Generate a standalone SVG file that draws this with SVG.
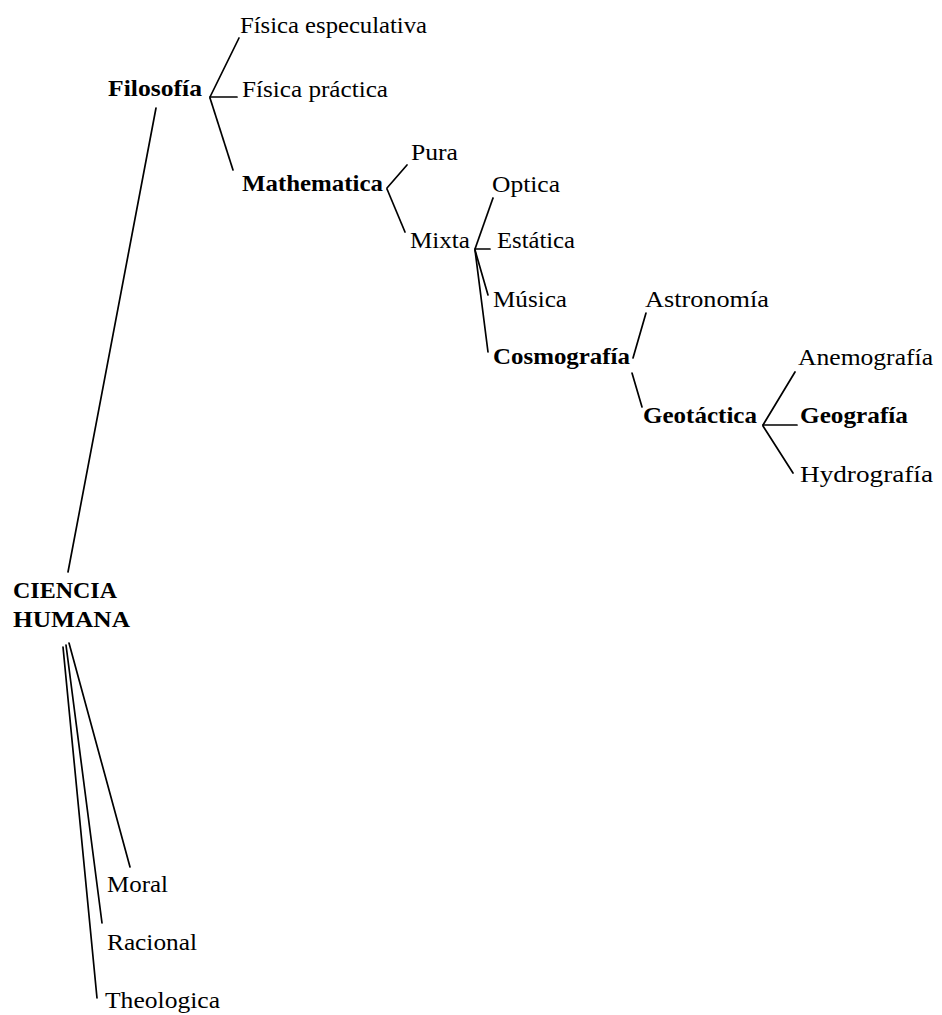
<svg xmlns="http://www.w3.org/2000/svg" width="942" height="1015" viewBox="0 0 942 1015">
<style>
text{font-family:"Liberation Serif","DejaVu Serif",serif;font-size:22.5px;fill:#000}
.b{font-weight:bold}
#connectors line{stroke:#000;stroke-width:1.7;fill:none;stroke-linecap:round}
</style>
<rect width="942" height="1015" fill="#fff"/>
<g id="connectors">
<line x1="156" y1="108" x2="68" y2="572"/>
<line x1="210" y1="97" x2="239" y2="38"/>
<line x1="210" y1="97" x2="237" y2="97"/>
<line x1="210" y1="98" x2="233" y2="170"/>
<line x1="387" y1="188" x2="407" y2="165"/>
<line x1="387" y1="189" x2="405" y2="232"/>
<line x1="475" y1="249" x2="493" y2="198"/>
<line x1="475" y1="249" x2="490" y2="249"/>
<line x1="475" y1="250" x2="488" y2="295"/>
<line x1="475" y1="250" x2="488" y2="352"/>
<line x1="633" y1="358" x2="646" y2="313"/>
<line x1="632" y1="373" x2="642" y2="407"/>
<line x1="763" y1="425" x2="795" y2="372"/>
<line x1="763" y1="425" x2="797" y2="425"/>
<line x1="763" y1="426" x2="793" y2="473"/>
<line x1="69" y1="643" x2="130" y2="867"/>
<line x1="66" y1="645" x2="102" y2="923"/>
<line x1="63" y1="647" x2="97" y2="998"/>
</g>
<g id="ciencia-humana"><text class="b" x="13" y="598" textLength="104" lengthAdjust="spacingAndGlyphs">CIENCIA</text><text class="b" x="13" y="627" textLength="117" lengthAdjust="spacingAndGlyphs">HUMANA</text></g>
<g id="filosofia"><text class="b" x="108" y="96" textLength="94" lengthAdjust="spacingAndGlyphs">Filosofía</text></g>
<g id="fisica-especulativa"><text x="240" y="33" textLength="187" lengthAdjust="spacingAndGlyphs">Física especulativa</text></g>
<g id="fisica-practica"><text x="242" y="97" textLength="146" lengthAdjust="spacingAndGlyphs">Física práctica</text></g>
<g id="mathematica"><text class="b" x="242" y="191" textLength="141" lengthAdjust="spacingAndGlyphs">Mathematica</text></g>
<g id="pura"><text x="411" y="160" textLength="47" lengthAdjust="spacingAndGlyphs">Pura</text></g>
<g id="mixta"><text x="410" y="248" textLength="60" lengthAdjust="spacingAndGlyphs">Mixta</text></g>
<g id="optica"><text x="492" y="192" textLength="68" lengthAdjust="spacingAndGlyphs">Optica</text></g>
<g id="estatica"><text x="497" y="248" textLength="78" lengthAdjust="spacingAndGlyphs">Estática</text></g>
<g id="musica"><text x="493" y="307" textLength="74" lengthAdjust="spacingAndGlyphs">Música</text></g>
<g id="cosmografia"><text class="b" x="493" y="364" textLength="137" lengthAdjust="spacingAndGlyphs">Cosmografía</text></g>
<g id="astronomia"><text x="645" y="307" textLength="124" lengthAdjust="spacingAndGlyphs">Astronomía</text></g>
<g id="geotactica"><text class="b" x="643" y="423" textLength="114" lengthAdjust="spacingAndGlyphs">Geotáctica</text></g>
<g id="anemografia"><text x="798" y="365" textLength="135" lengthAdjust="spacingAndGlyphs">Anemografía</text></g>
<g id="geografia"><text class="b" x="800" y="423" textLength="108" lengthAdjust="spacingAndGlyphs">Geografía</text></g>
<g id="hydrografia"><text x="800" y="482" textLength="133" lengthAdjust="spacingAndGlyphs">Hydrografía</text></g>
<g id="moral"><text x="107" y="892" textLength="61" lengthAdjust="spacingAndGlyphs">Moral</text></g>
<g id="racional"><text x="107" y="950" textLength="90" lengthAdjust="spacingAndGlyphs">Racional</text></g>
<g id="theologica"><text x="105" y="1008" textLength="115" lengthAdjust="spacingAndGlyphs">Theologica</text></g>
</svg>
